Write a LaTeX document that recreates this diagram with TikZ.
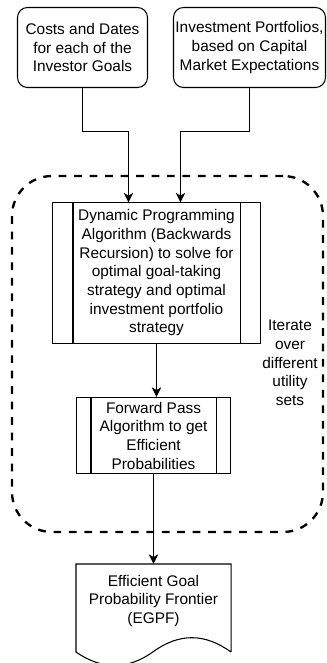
\documentclass[tikz,border=0pt]{standalone}
\usepackage{fontspec}
\setmainfont{Liberation Sans}
\usetikzlibrary{arrows.meta}
\begin{document}
\begin{tikzpicture}[x=0.75pt,y=-0.75pt,
  font=\fontsize{11.55}{14}\selectfont,
  every node/.style={align=center, inner sep=0pt, line width=0.8pt},
  thin line/.style={line width=0.8pt},
  inbox/.style={draw, rounded corners=7.5pt, minimum height=60pt},
  procbox/.style={draw, rectangle},
  link/.style={thin line, -{Stealth[length=7.2pt,width=7pt,inset=2pt]}},
  loopbox/.style={draw, line width=1.75pt, dash pattern=on 5.8pt off 5.8pt, rounded corners=30pt}
]
\useasboundingbox (0,0) rectangle (327,663);

% inputs
\node[inbox, minimum width=97.5pt] (costs) at (82.5,47.5) {Costs and Dates\\for each of the\\Investor Goals};
\node[inbox, minimum width=114pt] (ports) at (249.5,47.5) {Investment Portfolios,\\based on Capital\\Market Expectations};

% iteration loop
\node[loopbox, minimum width=233.25pt, minimum height=267pt] (loop) at (167.5,354) {};
\node (iter) at (290,363) {Iterate\\over\\different\\utility\\sets};

% backward recursion
\node[procbox, minimum width=156pt, minimum height=105.75pt] (dp) at (156.5,273)
  {Dynamic Programming\\Algorithm (Backwards\\Recursion) to solve for\\optimal goal-taking\\strategy and optimal\\investment portfolio\\strategy};
\draw[thin line] ([xshift=15.75pt]dp.north west) -- ([xshift=15.75pt]dp.south west);
\draw[thin line] ([xshift=-15.75pt]dp.north east) -- ([xshift=-15.75pt]dp.south east);

% forward pass
\node[procbox, minimum width=115.5pt, minimum height=57pt] (fp) at (153.5,435.5)
  {Forward Pass\\Algorithm to get\\Efficient\\Probabilities};
\draw[thin line] ([xshift=11.25pt]fp.north west) -- ([xshift=11.25pt]fp.south west);
\draw[thin line] ([xshift=-11.25pt]fp.north east) -- ([xshift=-11.25pt]fp.south east);

% output document
\node[minimum width=115.5pt, minimum height=65.25pt] (egpf) at (153.5,608) {};
\draw[thin line] (egpf.south east) -- (egpf.north east) -- (egpf.north west) -- (egpf.south west)
  .. controls (102.2,670) and (127.8,670) .. (153.5,651.5)
  .. controls (179.2,633) and (204.8,633) .. (egpf.south east);
\node (egpftext) at (153.5,601) {Efficient Goal\\Probability Frontier\\(EGPF)};

% connectors
\coordinate (k1) at (105,131.5);
\coordinate (dpinA) at (128.5,202.5);
\coordinate (k2) at (215,131.5);
\coordinate (dpinB) at (180.5,202.5);
\draw[link] (costs.south) |- (k1) -| (dpinA);
\draw[link] (ports.south) |- (k2) -| (dpinB);
\draw[link] (dp.south) -- (dp.south |- fp.north);
\draw[link] (fp.south) -- (egpf.north);
\end{tikzpicture}
\end{document}
